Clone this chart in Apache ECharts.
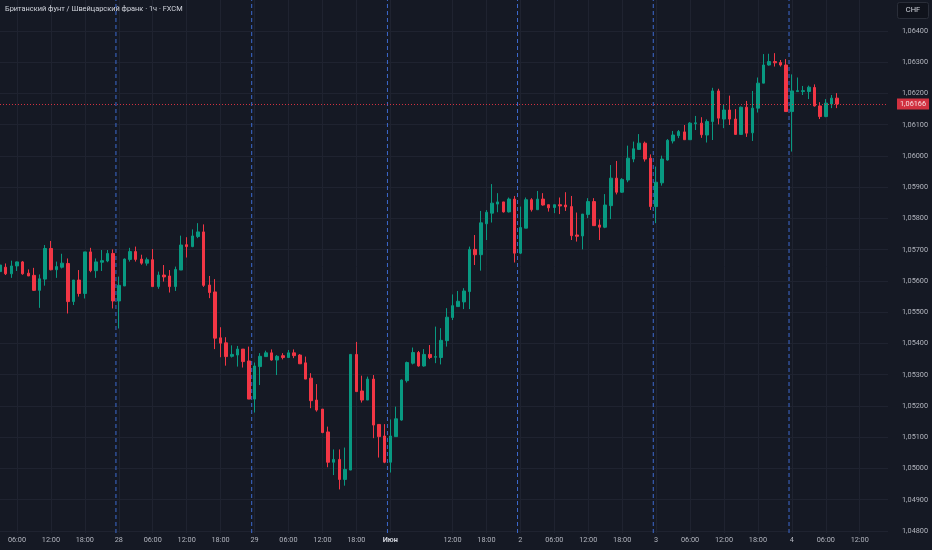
<!DOCTYPE html>
<html><head><meta charset="utf-8">
<script src="https://cdn.jsdelivr.net/npm/echarts@6/dist/echarts.min.js"></script>
<style>html,body{margin:0;padding:0;background:#151924;}#c{width:932px;height:550px;}</style>
</head><body><div id="c"></div>
<script>
const titleText = 'Британский фунт / Швейцарский франк · 1ч · FXCM';
const currency = 'CHF';
const lastPrice = 1.06166;

const openP = [1.05630,1.05644,1.05623,1.05648,1.05661,1.05625,1.05618,1.05570,1.05606,1.05704,
1.05636,1.05644,1.05656,1.05534,1.05603,1.05560,1.05693,1.05633,1.05660,1.05664,
1.05688,1.05536,1.05584,1.05669,1.05694,1.05670,1.05657,1.05668,1.05582,1.05619,
1.05616,1.05582,1.05635,1.05716,1.05710,1.05742,1.05757,1.05587,1.05565,1.05418,
1.05402,1.05359,1.05363,1.05382,1.05344,1.05222,1.05326,1.05358,1.05370,1.05347,
1.05361,1.05355,1.05370,1.05363,1.05338,1.05289,1.05219,1.05190,1.05117,1.05020,
1.05029,1.04965,1.04995,1.05365,1.05248,1.05219,1.05286,1.05141,1.05104,1.05020,
1.05102,1.05155,1.05281,1.05337,1.05371,1.05328,1.05365,1.05356,1.05355,1.05409,
1.05483,1.05518,1.05533,1.05566,1.05701,1.05684,1.05783,1.05817,1.05846,1.05853,
1.05821,1.05862,1.05689,1.05769,1.05860,1.05828,1.05862,1.05844,1.05835,1.05844,
1.05843,1.05838,1.05747,1.05744,1.05813,1.05854,1.05779,1.05772,1.05841,1.05929,
1.05884,1.05923,1.05990,1.06021,1.06041,1.05993,1.05838,1.05914,1.05987,1.06048,
1.06065,1.06077,1.06052,1.06103,1.06105,1.06067,1.06110,1.06208,1.06118,1.06147,
1.06118,1.06069,1.06156,1.06074,1.06153,1.06233,1.06291,1.06302,1.06299,1.06291,
1.06142,1.06206,1.06206,1.06206,1.06219,1.06160,1.06126,1.06166,1.06185];
const closeP = [1.05651,1.05623,1.05648,1.05661,1.05623,1.05616,1.05570,1.05607,1.05704,1.05636,
1.05646,1.05657,1.05534,1.05603,1.05560,1.05693,1.05633,1.05661,1.05665,1.05688,
1.05536,1.05586,1.05670,1.05694,1.05669,1.05657,1.05668,1.05582,1.05619,1.05613,
1.05582,1.05637,1.05715,1.05710,1.05744,1.05757,1.05586,1.05563,1.05417,1.05401,
1.05358,1.05365,1.05382,1.05342,1.05222,1.05328,1.05359,1.05370,1.05347,1.05359,
1.05355,1.05370,1.05361,1.05335,1.05286,1.05217,1.05187,1.05115,1.05020,1.05029,
1.04965,1.04997,1.05365,1.05246,1.05219,1.05286,1.05139,1.05102,1.05020,1.05104,
1.05159,1.05283,1.05339,1.05371,1.05328,1.05365,1.05355,1.05358,1.05410,1.05484,
1.05521,1.05535,1.05568,1.05701,1.05684,1.05786,1.05820,1.05849,1.05853,1.05821,
1.05862,1.05689,1.05771,1.05860,1.05828,1.05862,1.05843,1.05834,1.05844,1.05840,
1.05837,1.05745,1.05743,1.05814,1.05854,1.05777,1.05772,1.05843,1.05929,1.05884,
1.05925,1.05993,1.06023,1.06041,1.05990,1.05838,1.05916,1.05990,1.06050,1.06067,
1.06078,1.06052,1.06105,1.06106,1.06068,1.06110,1.06208,1.06121,1.06147,1.06118,
1.06069,1.06156,1.06073,1.06153,1.06233,1.06291,1.06302,1.06298,1.06291,1.06142,
1.06208,1.06209,1.06209,1.06220,1.06160,1.06126,1.06169,1.06185,1.06166];
const lowP = [1.05619,1.05619,1.05610,1.05632,1.05620,1.05616,1.05568,1.05514,1.05585,1.05634,
1.05610,1.05640,1.05496,1.05523,1.05550,1.05544,1.05628,1.05610,1.05632,1.05660,
1.05512,1.05448,1.05584,1.05662,1.05662,1.05652,1.05649,1.05582,1.05575,1.05598,
1.05563,1.05568,1.05635,1.05675,1.05708,1.05737,1.05581,1.05545,1.05382,1.05356,
1.05329,1.05355,1.05326,1.05323,1.05222,1.05179,1.05267,1.05358,1.05345,1.05299,
1.05349,1.05355,1.05353,1.05335,1.05286,1.05193,1.05182,1.05113,1.05004,1.04979,
1.04933,1.04945,1.04995,1.05246,1.05211,1.05219,1.05097,1.05035,1.05017,1.04987,
1.05102,1.05153,1.05275,1.05333,1.05326,1.05326,1.05350,1.05337,1.05333,1.05390,
1.05475,1.05518,1.05510,1.05510,1.05651,1.05633,1.05731,1.05787,1.05820,1.05819,
1.05819,1.05659,1.05686,1.05769,1.05822,1.05828,1.05841,1.05822,1.05817,1.05814,
1.05824,1.05731,1.05726,1.05701,1.05801,1.05777,1.05731,1.05769,1.05798,1.05877,
1.05882,1.05916,1.05980,1.06019,1.05982,1.05827,1.05785,1.05905,1.05985,1.06040,
1.06057,1.06052,1.06052,1.06083,1.06058,1.06043,1.06051,1.06101,1.06089,1.06099,
1.06069,1.06069,1.06061,1.06048,1.06139,1.06233,1.06289,1.06286,1.06286,1.06142,
1.06014,1.06206,1.06195,1.06182,1.06158,1.06118,1.06124,1.06153,1.06153];
const highP = [1.05656,1.05656,1.05665,1.05662,1.05664,1.05637,1.05642,1.05621,1.05715,1.05728,
1.05662,1.05687,1.05672,1.05603,1.05635,1.05693,1.05706,1.05672,1.05699,1.05699,
1.05701,1.05614,1.05672,1.05706,1.05710,1.05684,1.05675,1.05702,1.05630,1.05651,
1.05635,1.05646,1.05745,1.05740,1.05765,1.05785,1.05781,1.05616,1.05606,1.05452,
1.05420,1.05394,1.05392,1.05382,1.05390,1.05339,1.05369,1.05377,1.05381,1.05363,
1.05369,1.05379,1.05381,1.05366,1.05358,1.05305,1.05270,1.05190,1.05134,1.05061,
1.05061,1.05067,1.05365,1.05405,1.05297,1.05294,1.05299,1.05141,1.05142,1.05157,
1.05198,1.05285,1.05342,1.05387,1.05376,1.05382,1.05395,1.05454,1.05449,1.05513,
1.05557,1.05568,1.05577,1.05710,1.05747,1.05824,1.05827,1.05910,1.05881,1.05853,
1.05867,1.05872,1.05838,1.05867,1.05865,1.05888,1.05881,1.05844,1.05844,1.05867,
1.05884,1.05872,1.05819,1.05814,1.05865,1.05865,1.05797,1.05878,1.05971,1.05984,
1.05929,1.06033,1.06046,1.06070,1.06046,1.06005,1.05966,1.06001,1.06054,1.06080,
1.06083,1.06099,1.06108,1.06128,1.06124,1.06117,1.06218,1.06215,1.06163,1.06193,
1.06150,1.06158,1.06176,1.06208,1.06251,1.06326,1.06327,1.06329,1.06307,1.06310,
1.06261,1.06251,1.06224,1.06225,1.06229,1.06172,1.06182,1.06195,1.06201];

const tickIndex = [3,9,15,21,27,33,39,45,51,57,63,69,80,86,92,98,104,110,116,122,128,134,140,146,152];
const tickText = ['06:00','12:00','18:00','28','06:00','12:00','18:00','29','06:00','12:00','18:00','Июн',
'12:00','18:00','2','06:00','12:00','18:00','3','06:00','12:00','18:00','4','06:00','12:00'];
const dayBreaks = [20.5,44.5,68.5,91.5,115.5,139.5];
const priceTicks = [1.048,1.049,1.050,1.051,1.052,1.053,1.054,1.055,1.056,1.057,1.058,1.059,1.060,1.061,1.062,1.063,1.064];

const FONT = 'Roboto, "Noto Sans", sans-serif';
const Y_MIN = 1.047936, Y_MAX = 1.06499;
const candles = openP.map((o, i) => [i, o, closeP[i], lowP[i], highP[i]]);

const breakSeries = dayBreaks.map(x => ({
  type: 'line', silent: true, symbol: 'none', z: 1,
  data: [[x, Y_MIN], [x, Y_MAX]],
  lineStyle: {color: '#3f6fd8', type: [4, 3], width: 1, opacity: 0.95},
  emphasis: {disabled: true}
}));

const chart = echarts.init(document.getElementById('c'));
chart.setOption({
  backgroundColor: '#151924',
  animation: false,
  title: {
    text: titleText, left: 5, top: 6, padding: 0,
    textStyle: {color: '#d1d4dc', fontSize: 7.4, fontWeight: 'normal', fontFamily: FONT}
  },
  grid: {left: 0, right: 44, top: 0, bottom: 17},
  xAxis: {
    type: 'value', min: 0, max: 157,
    axisLine: {show: false},
    axisTick: {show: false, customValues: tickIndex},
    axisLabel: {
      customValues: tickIndex, color: '#b2b5be', fontSize: 7.3, margin: 4, fontFamily: FONT,
      formatter: v => { const t = tickText[tickIndex.indexOf(v)]; return t === 'Июн' ? '{b|' + t + '}' : t; },
      rich: {b: {fontWeight: 'bold', color: '#d1d4dc', fontSize: 7.3, fontFamily: FONT}}
    },
    splitLine: {show: true, lineStyle: {color: '#1f2330', width: 1}}
  },
  yAxis: {
    type: 'value', position: 'right', min: Y_MIN, max: Y_MAX,
    axisLine: {show: false},
    axisTick: {show: false, customValues: priceTicks},
    axisLabel: {
      customValues: priceTicks, color: '#b2b5be', fontSize: 7.3, margin: 14, fontFamily: FONT,
      formatter: v => v.toFixed(5).replace('.', ',')
    },
    splitLine: {show: true, lineStyle: {color: '#1f2330', width: 1}}
  },
  series: breakSeries.concat([{
    type: 'candlestick',
    data: candles,
    barWidth: 3,
    clip: true,
    z: 3,
    itemStyle: {color: '#089981', color0: '#f23645', borderColor: '#089981', borderColor0: '#f23645', borderWidth: 1},
    markLine: {
      silent: true, symbol: ['none', 'none'], animation: false, precision: 6,
      lineStyle: {color: '#f23645', type: [1, 2], width: 1, opacity: 0.85},
      data: [{
        yAxis: lastPrice,
        label: {
          show: true, position: 'end', distance: 9,
          formatter: () => lastPrice.toFixed(5).replace('.', ','),
          backgroundColor: '#f23645', color: '#ffffff', padding: [2, 3, 2, 3],
          fontSize: 7.3, fontFamily: FONT
        }
      }]
    }
  }]),
  graphic: [{
    type: 'group', right: 3, top: 2,
    children: [
      {type: 'rect', shape: {x: 0, y: 0, width: 31, height: 16, r: 2},
       style: {fill: '#10131c', stroke: '#2a2e39', lineWidth: 1}},
      {type: 'text', x: 15.5, y: 8,
       style: {text: currency, fill: '#d1d4dc', fontSize: 7.5, align: 'center', verticalAlign: 'middle', fontFamily: FONT}}
    ]
  }]
});
</script>
</body></html>
